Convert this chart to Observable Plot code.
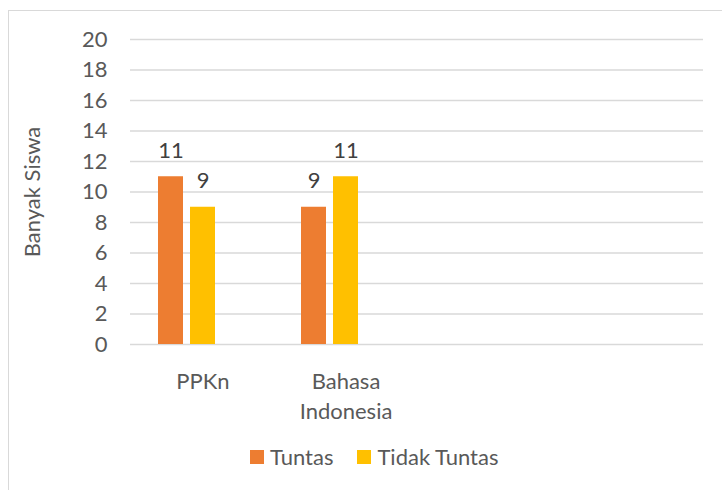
<!DOCTYPE html>
<html>
<head>
<meta charset="utf-8">
<script src="https://cdn.jsdelivr.net/npm/d3@7"></script>
<script src="https://cdn.jsdelivr.net/npm/@observablehq/plot@0.6"></script>
<style>
  html, body { margin: 0; padding: 0; background: #fff; }
  body { width: 722px; height: 490px; overflow: hidden; position: relative; font-family: Lato, "Open Sans", sans-serif; }
  #frame { position: absolute; left: 8px; top: 10px; width: 800px; height: 600px; border: 1.5px solid #d9d9d9; box-sizing: border-box; }
  #chart { position: absolute; left: 0; top: 0; }
  #legend { position: absolute; left: 250px; top: 443px; display: flex; align-items: center; font-size: 22px; color: #595959; }
  #legend .sw { width: 14px; height: 14px; display: inline-block; margin-right: 6px; }
  #legend .item { display: flex; align-items: center; margin-right: 24px; }
</style>
</head>
<body>
<div id="frame"></div>
<div id="chart"></div>
<div id="legend"></div>
<script>
// Data
const categories = ["PPKn", "Bahasa Indonesia", "kosong1", "kosong2"];
const categoryLabels = ["PPKn", "Bahasa\nIndonesia", "", ""];
const seriesNames = ["Tuntas", "Tidak Tuntas"];
const tuntas = [11, 9];
const tidakTuntas = [9, 11];
const seriesColors = ["#ED7D31", "#FFC000"];
const yTicks = [0, 2, 4, 6, 8, 10, 12, 14, 16, 18, 20];
const yLabel = "Banyak Siswa";

const rowsT = tuntas.map((v, i) => ({category: categories[i], value: v}));
const rowsTT = tidakTuntas.map((v, i) => ({category: categories[i], value: v}));
const labelOf = new Map(categories.map((c, i) => [c, categoryLabels[i]]));

const chart = Plot.plot({
  width: 722,
  height: 440,
  marginLeft: 130,
  marginRight: 19,
  marginTop: 39,
  marginBottom: 96,
  style: {fontFamily: "Lato, 'Open Sans', sans-serif", fontSize: "22px", color: "#595959", background: "transparent", overflow: "visible"},
  x: {domain: categories, paddingInner: 0.38, paddingOuter: 0.19},
  y: {domain: [0, 20]},
  marks: [
    Plot.ruleY(yTicks, {stroke: "#d9d9d9", strokeWidth: 1.5}),
    Plot.barY(rowsT, {x: "category", y: "value", fill: seriesColors[0], insetLeft: 0, insetRight: 64}),
    Plot.barY(rowsTT, {x: "category", y: "value", fill: seriesColors[1], insetLeft: 32, insetRight: 32}),
    Plot.text(rowsT, {x: "category", y: "value", text: d => String(d.value), dx: -32, dy: -26, fill: "#404040", fontSize: 22}),
    Plot.text(rowsTT, {x: "category", y: "value", text: d => String(d.value), dx: 0, dy: -26, fill: "#404040", fontSize: 22}),
    Plot.axisY({ticks: yTicks, tickSize: 0, tickPadding: 23, fontSize: 22, label: null, tickFormat: d => String(d)}),
    Plot.text([yLabel], {frameAnchor: "left", textAnchor: "middle", dx: -98, rotate: -90, fontSize: 22, fill: "#595959", text: d => d}),
    Plot.axisX({tickSize: 0, tickPadding: 23, fontSize: 22, lineHeight: 1.36, tickFormat: d => labelOf.get(d), label: null})
  ]
});
document.getElementById("chart").appendChild(chart);

const legend = document.getElementById("legend");
seriesNames.forEach((name, i) => {
  const item = document.createElement("div");
  item.className = "item";
  const sw = document.createElement("span");
  sw.className = "sw";
  sw.style.background = seriesColors[i];
  const t = document.createElement("span");
  t.textContent = name;
  item.appendChild(sw);
  item.appendChild(t);
  legend.appendChild(item);
});
</script>
</body>
</html>
